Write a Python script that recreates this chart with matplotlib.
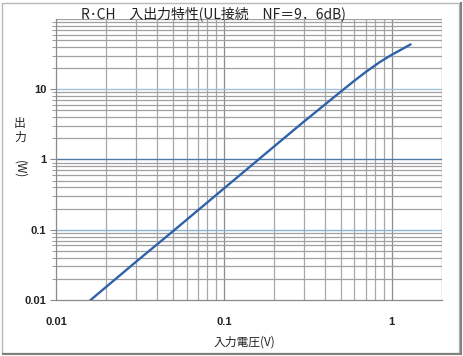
import matplotlib
matplotlib.use("Agg")
import matplotlib.pyplot as plt
from matplotlib.patches import Rectangle
from matplotlib.ticker import LogLocator, NullFormatter, FixedLocator, FixedFormatter

# Input voltage (V) vs output power (W)
v_in = [0.015, 0.03, 0.05, 0.1, 0.2, 0.3, 0.5, 0.6, 0.7, 0.85, 1.0, 1.3]
p_out = [0.0087, 0.035, 0.096, 0.385, 1.54, 3.45, 9.3, 13.2, 17.5, 24.3, 30.8, 43.5]

x_ticks = [0.01, 0.1, 1]
x_tick_labels = ["0.01", "0.1", "1"]
y_ticks = [0.01, 0.1, 1, 10]
y_tick_labels = ["0.01", "0.1", "1", "10"]

title = "R･CH　入出力特性(UL接続　NF＝9．6dB)"
xlabel = "入力電圧(V)"

W, H = 463, 356
fig = plt.figure(figsize=(W / 100, H / 100), dpi=100)
fig.patch.set_facecolor("white")

cjk = ["Noto Sans CJK JP", "DejaVu Sans"]

# axes box in pixels: x 56..442, y 19..300
ax = fig.add_axes([56 / W, 1 - 300 / H, (442 - 56) / W, (300 - 19) / H])
ax.set_xscale("log")
ax.set_yscale("log")
ax.set_xlim(0.01, 2)
ax.set_ylim(0.01, 100)

# grid lines
for dec in [0.01, 0.1, 1]:
    for m in range(2, 10):
        v = dec * m
        if v < 2:
            ax.axvline(v, color="#a8a8a8", lw=0.9, zorder=1)
for v in [0.1, 1, 2]:
    ax.axvline(v, color="#8c8c8c", lw=0.9, zorder=1)
for dec in [0.01, 0.1, 1, 10]:
    for m in range(2, 10):
        ax.axhline(dec * m, color="#a0a0a0", lw=0.9, zorder=1)
ax.axhline(10, color="#9fc3dc", lw=1.0, zorder=1)
ax.axhline(1, color="#4f7aa6", lw=1.0, zorder=1)
ax.axhline(0.1, color="#8db4d6", lw=1.0, zorder=1)
ax.axhline(100, color="#a0a0a0", lw=0.9, zorder=1)

ax.plot(v_in, p_out, color="#2f62a8", lw=1.7, zorder=3, solid_capstyle="round")

for s in ["top", "right"]:
    ax.spines[s].set_visible(False)
for s in ["left", "bottom"]:
    ax.spines[s].set_color("#8a8a8a")
    ax.spines[s].set_linewidth(0.9)

ax.xaxis.set_major_locator(FixedLocator(x_ticks))
ax.xaxis.set_major_formatter(FixedFormatter(x_tick_labels))
ax.xaxis.set_minor_locator(LogLocator(base=10, subs=range(2, 10)))
ax.xaxis.set_minor_formatter(NullFormatter())
ax.yaxis.set_major_locator(FixedLocator(y_ticks))
ax.yaxis.set_major_formatter(FixedFormatter(y_tick_labels))
ax.yaxis.set_minor_locator(LogLocator(base=10, subs=range(2, 10)))
ax.yaxis.set_minor_formatter(NullFormatter())

ax.tick_params(axis="x", which="both", length=0, pad=12, labelsize=8,
               labelcolor="#222222")
ax.tick_params(axis="y", which="major", length=4, color="#8a8a8a", pad=3,
               labelsize=8, labelcolor="#222222")
ax.tick_params(axis="y", which="minor", length=3, color="#8a8a8a")
for lab in ax.get_xticklabels() + ax.get_yticklabels():
    lab.set_fontfamily("Liberation Sans")
    lab.set_fontweight("bold")

# titles and axis labels
fig.text(213 / W, 1 - 14 / H, title, ha="center", va="center",
         fontsize=10, family=cjk, color="#222222")
fig.text(244 / W, 1 - 342 / H, xlabel, ha="center", va="center",
         fontsize=8.5, family=cjk, color="#222222")
for ch, ypx in [("出", 123), ("力", 137)]:
    fig.text(20 / W, 1 - ypx / H, ch, ha="center", va="center",
             fontsize=8.5, family=cjk, color="#222222")
fig.text(20 / W, 1 - 169 / H, "(W)", ha="center", va="center",
         fontsize=8.5, family=cjk, color="#222222", rotation=-90)

# chart frame
fig.add_artist(Rectangle((2 / W, 3 / H), (459 - 2) / W, (353 - 3) / H,
                         transform=fig.transFigure, fill=False,
                         edgecolor="#b8b8b8", lw=1.0))
fig.add_artist(plt.Line2D([3 / W, 461 / W], [2 / H, 2 / H],
                          transform=fig.transFigure, color="#808080", lw=1.5))
fig.add_artist(plt.Line2D([461 / W, 461 / W], [2 / H, 353 / H],
                          transform=fig.transFigure, color="#808080", lw=1.5))

fig.savefig("out.png", dpi=100, facecolor="white")
